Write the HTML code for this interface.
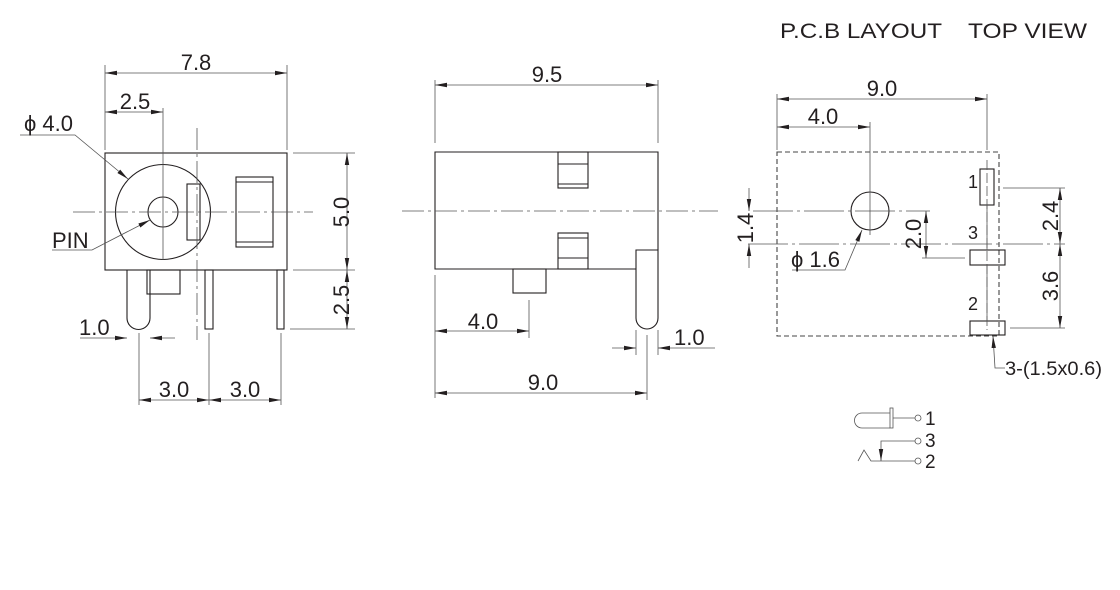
<!DOCTYPE html>
<html><head><meta charset="utf-8"><style>
html,body{margin:0;padding:0;background:#fff;}
svg{display:block}
text{font-family:"Liberation Sans",Arial,sans-serif;fill:#231f20;}
</style></head><body>
<svg width="1120" height="590" viewBox="0 0 1120 590" xmlns="http://www.w3.org/2000/svg">
<defs>
<marker id="a" viewBox="0 0 12 6" refX="12" refY="3" markerWidth="12" markerHeight="6" orient="auto-start-reverse" markerUnits="userSpaceOnUse"><path d="M0,0.8 L12,3 L0,5.2z" fill="#231f20"/></marker>
</defs>
<g fill="none" stroke="#231f20" stroke-width="1.1">
<rect x="105" y="153" width="182" height="117"/>
<circle cx="163" cy="212" r="47.5"/>
<circle cx="163" cy="212" r="15"/>
<rect x="187" y="184" width="13" height="56"/>
<rect x="236" y="177" width="37" height="70"/>
<line x1="236" y1="182" x2="273" y2="182"/>
<line x1="236" y1="242" x2="273" y2="242"/>
<path d="M127,270 V318 A11.5,11.5 0 0 0 150,318 V270"/>
<rect x="147" y="270" width="33" height="24"/>
<rect x="205" y="270" width="8" height="59"/>
<rect x="277" y="270" width="7" height="59"/>
</g>
<g fill="none" stroke="#555" stroke-width="0.8">
<line x1="73" y1="212" x2="313" y2="212" stroke-dasharray="22,4,3,4"/>
<line x1="197" y1="128" x2="197" y2="340" stroke-dasharray="22,4,3,4"/>
<line x1="163" y1="108" x2="163" y2="260"/>
<line x1="105" y1="65" x2="105" y2="150"/><line x1="287" y1="65" x2="287" y2="150"/>
<line x1="105" y1="73" x2="287" y2="73" marker-start="url(#a)" marker-end="url(#a)"/>
<line x1="105" y1="112" x2="163" y2="112" marker-start="url(#a)" marker-end="url(#a)"/>
<polyline points="20,135 75,135 128,179" marker-end="url(#a)"/>
<polyline points="52,250 92,250 150,220" marker-end="url(#a)"/>
<line x1="293" y1="153" x2="355" y2="153"/><line x1="293" y1="270" x2="355" y2="270"/><line x1="290" y1="329" x2="355" y2="329"/>
<line x1="347" y1="153" x2="347" y2="270" marker-start="url(#a)" marker-end="url(#a)"/>
<line x1="347" y1="270" x2="347" y2="329" marker-start="url(#a)" marker-end="url(#a)"/>
<line x1="80" y1="338" x2="127" y2="338" marker-end="url(#a)"/>
<line x1="175" y1="338" x2="150" y2="338" marker-end="url(#a)"/>
<line x1="139" y1="333" x2="139" y2="405"/><line x1="209" y1="333" x2="209" y2="405"/><line x1="281" y1="333" x2="281" y2="405"/>
<line x1="139" y1="400" x2="209" y2="400" marker-start="url(#a)" marker-end="url(#a)"/>
<line x1="209" y1="400" x2="281" y2="400" marker-start="url(#a)" marker-end="url(#a)"/>
</g>
<g font-size="22">
<text x="196" y="70" text-anchor="middle">7.8</text>
<text x="135" y="109" text-anchor="middle">2.5</text>
<text x="24" y="131">ϕ 4.0</text>
<text x="52" y="248">PIN</text>
<text transform="translate(349,212) rotate(-90)" text-anchor="middle">5.0</text>
<text transform="translate(349,300) rotate(-90)" text-anchor="middle">2.5</text>
<text x="79" y="335">1.0</text>
<text x="174" y="397" text-anchor="middle">3.0</text>
<text x="245" y="397" text-anchor="middle">3.0</text>
</g>

<g fill="none" stroke="#231f20" stroke-width="1.1">
<polyline points="636,269 435,269 435,152 658,152 658,250"/>
<rect x="558" y="152" width="30" height="36"/>
<line x1="558" y1="164" x2="588" y2="164"/><line x1="558" y1="184" x2="588" y2="184"/>
<rect x="558" y="233" width="30" height="36"/>
<line x1="558" y1="238" x2="588" y2="238"/><line x1="558" y1="258" x2="588" y2="258"/>
<path d="M636,250 H658 V318 A11,11 0 0 1 636,318 Z"/>
<rect x="513" y="269" width="33" height="24"/>
</g>
<g fill="none" stroke="#555" stroke-width="0.8">
<line x1="402" y1="211" x2="718" y2="211" stroke-dasharray="22,4,3,4"/>
<line x1="435" y1="80" x2="435" y2="143"/><line x1="658" y1="80" x2="658" y2="143"/>
<line x1="435" y1="85" x2="658" y2="85" marker-start="url(#a)" marker-end="url(#a)"/>
<line x1="435" y1="275" x2="435" y2="398"/>
<line x1="529" y1="300" x2="529" y2="338"/>
<line x1="435" y1="331" x2="529" y2="331" marker-start="url(#a)" marker-end="url(#a)"/>
<line x1="647" y1="335" x2="647" y2="400"/>
<line x1="435" y1="393" x2="647" y2="393" marker-start="url(#a)" marker-end="url(#a)"/>
<line x1="636" y1="330" x2="636" y2="355"/><line x1="658" y1="330" x2="658" y2="355"/>
<line x1="612" y1="348" x2="636" y2="348" marker-end="url(#a)"/>
<line x1="715" y1="348" x2="658" y2="348" marker-end="url(#a)"/>
</g>
<g font-size="22">
<text x="547" y="82" text-anchor="middle">9.5</text>
<text x="483" y="329" text-anchor="middle">4.0</text>
<text x="543" y="390" text-anchor="middle">9.0</text>
<text x="674" y="345">1.0</text>
</g>

<g font-size="21">
<text x="780" y="38" textLength="162" lengthAdjust="spacingAndGlyphs">P.C.B LAYOUT</text>
<text x="968" y="38" textLength="119" lengthAdjust="spacingAndGlyphs">TOP VIEW</text>
</g>
<g fill="none" stroke="#231f20" stroke-width="1.1">
<rect x="777" y="152" width="222" height="184" stroke-dasharray="5,3" stroke="#444"/>
<circle cx="870" cy="211" r="19"/>
<rect x="980" y="169" width="14" height="36"/>
<rect x="970" y="250" width="35" height="15"/>
<rect x="970" y="321" width="35" height="14"/>
</g>
<g fill="none" stroke="#555" stroke-width="0.8">
<line x1="987" y1="205" x2="987" y2="250"/><line x1="987" y1="265" x2="987" y2="321"/>
<line x1="987" y1="160" x2="987" y2="330" stroke-dasharray="10,3"/>
<line x1="777" y1="94" x2="777" y2="150"/><line x1="987" y1="94" x2="987" y2="150"/>
<line x1="777" y1="99" x2="987" y2="99" marker-start="url(#a)" marker-end="url(#a)"/>
<line x1="777" y1="127" x2="870" y2="127" marker-start="url(#a)" marker-end="url(#a)"/>
<line x1="870" y1="122" x2="870" y2="235"/>
<line x1="753" y1="211" x2="930" y2="211" stroke-dasharray="40,4,3,4"/>
<line x1="748" y1="244" x2="1065" y2="244" stroke-dasharray="40,4,3,4"/>
<line x1="749" y1="188" x2="749" y2="211" marker-end="url(#a)"/>
<line x1="749" y1="268" x2="749" y2="244" marker-end="url(#a)"/>
<line x1="926" y1="211" x2="926" y2="258" marker-start="url(#a)" marker-end="url(#a)"/>
<line x1="922" y1="258" x2="965" y2="258"/>
<polyline points="792,270 845,270 862,230" marker-end="url(#a)"/>
<line x1="1003" y1="188" x2="1065" y2="188"/>
<line x1="1010" y1="328" x2="1065" y2="328"/>
<line x1="1060" y1="188" x2="1060" y2="244" marker-start="url(#a)" marker-end="url(#a)"/>
<line x1="1060" y1="244" x2="1060" y2="328" marker-start="url(#a)" marker-end="url(#a)"/>
<polyline points="1005,368 995,368 993,336" marker-end="url(#a)"/>
</g>
<g font-size="22">
<text x="882" y="96" text-anchor="middle">9.0</text>
<text x="823" y="124" text-anchor="middle">4.0</text>
<text transform="translate(753,228) rotate(-90)" text-anchor="middle">1.4</text>
<text transform="translate(921,234) rotate(-90)" text-anchor="middle">2.0</text>
<text x="791" y="267">ϕ 1.6</text>
<text transform="translate(1058,216) rotate(-90)" text-anchor="middle">2.4</text>
<text transform="translate(1058,286) rotate(-90)" text-anchor="middle">3.6</text>
</g>
<g font-size="18">
<text x="968" y="188">1</text>
<text x="968" y="239">3</text>
<text x="968" y="310">2</text>
<text x="1005" y="375" font-size="19" textLength="97" lengthAdjust="spacingAndGlyphs">3-(1.5x0.6)</text>
</g>

<g fill="none" stroke="#555" stroke-width="0.8">
<path d="M890,413 H862 A7,7 0 0 0 862,428 H890"/>
<rect x="890" y="408" width="3" height="20"/>
<line x1="893" y1="418" x2="915" y2="418"/>
<circle cx="918" cy="418" r="3"/>
<polyline points="915,441 881,441 881,461" marker-end="url(#a)"/>
<circle cx="918" cy="441" r="3"/>
<polyline points="858,461 864,450 871,461 915,461"/>
<circle cx="918" cy="461" r="3"/>
</g>
<g font-size="19">
<text x="925" y="425">1</text>
<text x="925" y="447">3</text>
<text x="925" y="468">2</text>
</g>
</svg>
</body></html>
